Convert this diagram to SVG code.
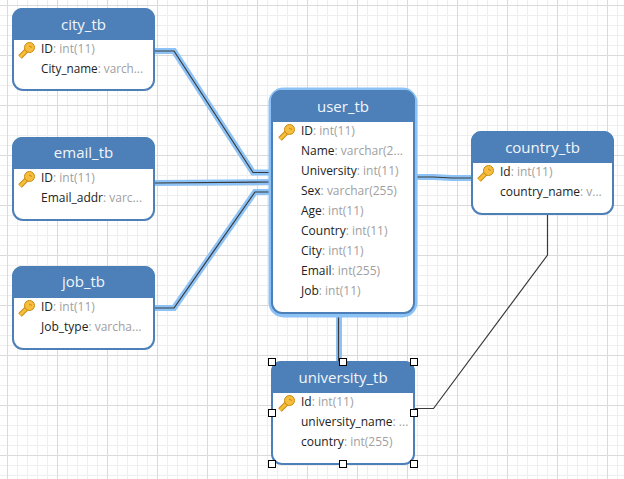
<svg xmlns="http://www.w3.org/2000/svg" width="624" height="479" viewBox="0 0 624 479">
<style>
.minor{stroke:#eeeeee;stroke-width:1;fill:none}
.major{stroke:#dadada;stroke-width:1;fill:none}
.body{fill:#fff;stroke:#4d80b8;stroke-width:2}
.head{fill:#4d80b8}
.glow{fill:none;stroke:#8cc2f5;stroke-width:6}
.t{font-family:"Open Sans","Noto Sans","DejaVu Sans",sans-serif;font-size:15px;fill:#f2f6fb;text-anchor:middle}
.r{font-family:"Open Sans","Noto Sans","DejaVu Sans",sans-serif;font-size:12px;fill:#222}
.r tspan{fill:#a0a0a0}
.hl{fill:none;stroke:#8cc2f5;stroke-width:6}
.ln{fill:none;stroke:#3a3a3a;stroke-width:1.2}
.h{fill:#fff;stroke:#000;stroke-width:1}
</style>
<defs>
<pattern id="gm" width="10" height="10" patternUnits="userSpaceOnUse" x="7" y="5"><path class="minor" d="M0.500 10V0.500H10"/></pattern>
<pattern id="gM" width="50" height="50" patternUnits="userSpaceOnUse" x="7" y="5"><path class="major" d="M0.500 50V0.500H50"/></pattern>
<g id="key">
<path d="M1 15 L9 7" stroke="#c98a10" stroke-width="5" fill="none"/>
<path d="M1 15 L9 7" stroke="#f7bd3c" stroke-width="3" fill="none"/>
<circle cx="10.500" cy="5.500" r="5" fill="#f7bd3c" stroke="#c98a10"/>
<path d="M10 4l3 1.500" stroke="#c98a10" fill="none"/>
</g>
</defs>
<rect width="624" height="479" fill="#fff"/>
<rect width="624" height="479" fill="url(#gm)"/>
<rect width="624" height="479" fill="url(#gM)"/>
<g id="connectors">
<path class="hl" d="M154 51H174L253 172.500H271"/>
<path class="hl" d="M154 183L271 182"/>
<path class="hl" d="M154 308H174L255 192H271"/>
<path class="hl" d="M415 177H433L452 178H471"/>
<path class="hl" d="M339 314V361" stroke-width="5"/>
<path class="ln" d="M154 51H174L253 172.500H271"/>
<path class="ln" d="M154 183L271 182"/>
<path class="ln" d="M154 308H174L255 192H271"/>
<path class="ln" d="M415 177H433L452 178H471"/>
<path class="ln" d="M338.500 314V361"/>
<path class="ln" d="M547.500 214V255L433.500 408.500H414"/>
</g>
<g id="city_tb">
<rect class="body" x="13" y="9" width="141" height="81" rx="10"/>
<path class="head" d="M12 40V18a10 10 0 0 1 10-10H145a10 10 0 0 1 10 10V40Z"/>
<text class="t" x="83.500" y="30">city_tb</text>
<use href="#key" x="19" y="42"/>
<text class="r" x="41" y="53">ID<tspan>: int(11)</tspan></text>
<text class="r" x="41" y="73" textLength="102" lengthAdjust="spacingAndGlyphs">City_name<tspan>: varch...</tspan></text>
</g>
<g id="email_tb">
<rect class="body" x="13" y="138" width="141" height="82" rx="10"/>
<path class="head" d="M12 169V147a10 10 0 0 1 10-10H145a10 10 0 0 1 10 10V169Z"/>
<text class="t" x="83.500" y="158">email_tb</text>
<use href="#key" x="19" y="171"/>
<text class="r" x="41" y="182">ID<tspan>: int(11)</tspan></text>
<text class="r" x="41" y="202">Email_addr<tspan>: varc...</tspan></text>
</g>
<g id="job_tb">
<rect class="body" x="13" y="267" width="141" height="82" rx="10"/>
<path class="head" d="M12 298V276a10 10 0 0 1 10-10H145a10 10 0 0 1 10 10V298Z"/>
<text class="t" x="83.500" y="287">job_tb</text>
<use href="#key" x="19" y="300"/>
<text class="r" x="41" y="311">ID<tspan>: int(11)</tspan></text>
<text class="r" x="41" y="331">Job_type<tspan>: varcha...</tspan></text>
</g>
<g id="user_tb">
<rect class="glow" x="271.500" y="90.500" width="143" height="224" rx="12"/>
<rect class="body" x="272" y="91" width="142" height="222" rx="10"/>
<path class="head" d="M271 122V100a10 10 0 0 1 10-10H405a10 10 0 0 1 10 10V122Z"/>
<text class="t" x="343" y="112">user_tb</text>
<use href="#key" x="279" y="124"/>
<text class="r" x="301" y="135">ID<tspan>: int(11)</tspan></text>
<text class="r" x="301" y="155">Name<tspan>: varchar(2...</tspan></text>
<text class="r" x="301" y="175">University<tspan>: int(11)</tspan></text>
<text class="r" x="301" y="195">Sex<tspan>: varchar(255)</tspan></text>
<text class="r" x="301" y="215">Age<tspan>: int(11)</tspan></text>
<text class="r" x="301" y="235">Country<tspan>: int(11)</tspan></text>
<text class="r" x="301" y="255">City<tspan>: int(11)</tspan></text>
<text class="r" x="301" y="275">Email<tspan>: int(255)</tspan></text>
<text class="r" x="301" y="295">Job<tspan>: int(11)</tspan></text>
</g>
<g id="country_tb">
<rect class="body" x="472" y="132" width="141" height="82" rx="10"/>
<path class="head" d="M471 163V141a10 10 0 0 1 10-10H604a10 10 0 0 1 10 10V163Z"/>
<text class="t" x="542.500" y="153">country_tb</text>
<use href="#key" x="478" y="165"/>
<text class="r" x="500" y="176">Id<tspan>: int(11)</tspan></text>
<text class="r" x="500" y="196">country_name<tspan>: v...</tspan></text>
</g>
<g id="university_tb">
<rect class="body" x="272" y="362" width="142" height="102" rx="10"/>
<path class="head" d="M271 393V371a10 10 0 0 1 10-10H405a10 10 0 0 1 10 10V393Z"/>
<text class="t" x="343" y="383">university_tb</text>
<use href="#key" x="279" y="395"/>
<text class="r" x="301" y="406">Id<tspan>: int(11)</tspan></text>
<text class="r" x="301" y="426">university_name<tspan>: ...</tspan></text>
<text class="r" x="301" y="446">country<tspan>: int(255)</tspan></text>
<rect class="h" x="268.500" y="358.500" width="7" height="7"/>
<rect class="h" x="339.500" y="358.500" width="7" height="7"/>
<rect class="h" x="410.500" y="358.500" width="7" height="7"/>
<rect class="h" x="268.500" y="409.500" width="7" height="7"/>
<rect class="h" x="410.500" y="409.500" width="7" height="7"/>
<rect class="h" x="268.500" y="460.500" width="7" height="7"/>
<rect class="h" x="339.500" y="460.500" width="7" height="7"/>
<rect class="h" x="410.500" y="460.500" width="7" height="7"/>
</g>
</svg>
